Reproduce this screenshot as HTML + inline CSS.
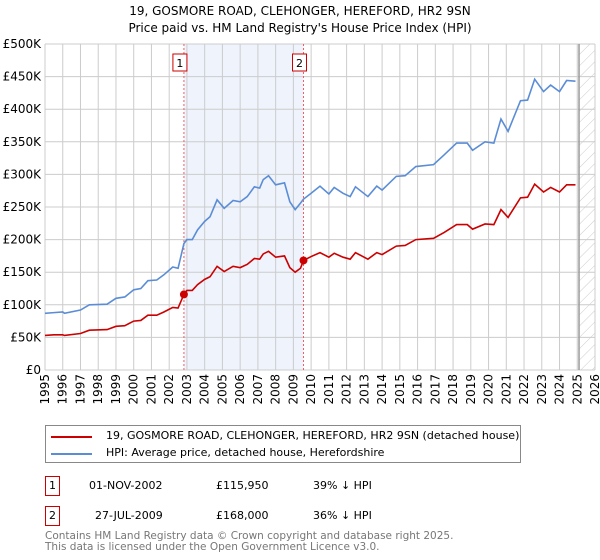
<!DOCTYPE html>
<html><head><meta charset="utf-8"><style>
body{margin:0;background:#fff;font-family:"DejaVu Sans","Liberation Sans",sans-serif;}
#wrap{position:relative;width:600px;height:560px;overflow:hidden;}
.t{position:absolute;font-size:11px;color:#000;white-space:nowrap;}
</style></head><body>
<div id="wrap">
<div class="t" style="left:0;width:600px;text-align:center;top:4px;font-size:12px;">19, GOSMORE ROAD, CLEHONGER, HEREFORD, HR2 9SN</div>
<div class="t" style="left:0;width:600px;text-align:center;top:21px;font-size:12px;">Price paid vs. HM Land Registry's House Price Index (HPI)</div>
<svg id="chart" width="600" height="420" style="position:absolute;left:0;top:0" font-family="DejaVu Sans, Liberation Sans, sans-serif"></svg>
<div style="position:absolute;left:45px;top:425px;width:474px;height:36px;border:1px solid #888;">
  <div style="position:absolute;left:5px;top:3px;width:460px;height:16px;">
    <div style="position:absolute;left:0;top:7px;width:41px;height:2px;background:#cc0000"></div>
    <div class="t" style="left:55px;top:0;font-size:11px;">19, GOSMORE ROAD, CLEHONGER, HEREFORD, HR2 9SN (detached house)</div>
  </div>
  <div style="position:absolute;left:5px;top:20px;width:460px;height:16px;">
    <div style="position:absolute;left:0;top:7px;width:41px;height:2px;background:#5b8dd6"></div>
    <div class="t" style="left:55px;top:0;font-size:11px;">HPI: Average price, detached house, Herefordshire</div>
  </div>
</div>
<div>
  <div class="t" style="left:45px;top:476px;width:13px;height:18px;border:1px solid #cc0000;text-align:center;line-height:18px;font-size:11px;">1</div>
  <div class="t" style="left:89px;top:479px;">01-NOV-2002</div>
  <div class="t" style="left:216px;top:479px;">£115,950</div>
  <div class="t" style="left:313px;top:479px;">39% ↓ HPI</div>
</div>
<div>
  <div class="t" style="left:45px;top:506px;width:13px;height:18px;border:1px solid #cc0000;text-align:center;line-height:18px;font-size:11px;">2</div>
  <div class="t" style="left:95px;top:509px;">27-JUL-2009</div>
  <div class="t" style="left:216px;top:509px;">£168,000</div>
  <div class="t" style="left:313px;top:509px;">36% ↓ HPI</div>
</div>
<div class="t" style="left:45px;top:531px;color:#777;font-size:10.5px;line-height:10.5px;">Contains HM Land Registry data © Crown copyright and database right 2025.<br>This data is licensed under the Open Government Licence v3.0.</div>
</div>
<script>
const yearTicks=[1995,1996,1997,1998,1999,2000,2001,2002,2003,2004,2005,2006,2007,2008,2009,2010,2011,2012,2013,2014,2015,2016,2017,2018,2019,2020,2021,2022,2023,2024,2025,2026];
const valueTicks=[0,50,100,150,200,250,300,350,400,450,500];
const valueTickLabels=["£0","£50K","£100K","£150K","£200K","£250K","£300K","£350K","£400K","£450K","£500K"];
const dates=[1995.0,1995.5,1996.0,1996.1,1997.0,1997.5,1998.5,1999.0,1999.5,2000.0,2000.4,2000.8,2001.3,2001.7,2002.2,2002.5,2002.83,2003.0,2003.3,2003.6,2004.0,2004.3,2004.7,2005.1,2005.6,2006.0,2006.4,2006.8,2007.1,2007.3,2007.6,2008.0,2008.5,2008.8,2009.1,2009.4,2009.57,2010.0,2010.5,2011.0,2011.3,2011.8,2012.2,2012.5,2013.2,2013.7,2014.0,2014.8,2015.3,2015.9,2016.9,2017.5,2018.2,2018.8,2019.1,2019.8,2020.3,2020.7,2021.1,2021.8,2022.2,2022.6,2023.1,2023.5,2024.0,2024.4,2024.9];
const hpiValues=[87,88,89,87,92,100,101,110,112,123,125,137,138,146,158,156,194,200,200,215,228,235,261,248,260,258,266,281,279,292,298,284,287,258,246,256,262,271,282,270,280,271,266,281,266,282,276,297,298,312,315,330,348,348,337,350,348,385,366,413,414,446,427,437,427,444,443];
const priceValues=[53,54,54,53,56,61,62,67,68,75,76,84,84,89,96,95,116,122,122,131,139,143,159,151,159,157,162,171,170,178,182,173,175,157,150,156,168,174,180,173,179,173,170,180,170,180,177,190,191,200,202,211,223,223,216,224,223,246,234,264,265,285,273,280,273,284,284];
const saleDates=[2002.83,2009.57];
const salePrices=[115.95,168];
const saleLabels=["1","2"];
const dataEnd=2025.1;

const svg=document.getElementById('chart');
const NS='http://www.w3.org/2000/svg';
const X0=45,X1=595,Y0=370,Y1=44;
const xs=y=>X0+(y-1995)/(2026-1995)*(X1-X0);
const ys=v=>Y0-v/500*(Y0-Y1);
function mk(t,a){const e=document.createElementNS(NS,t);for(const k in a)e.setAttribute(k,a[k]);svg.appendChild(e);return e;}

let e=mk('rect',{x:xs(saleDates[0]),y:Y1,width:xs(saleDates[1])-xs(saleDates[0]),height:Y0-Y1,fill:'#eef3fc'});


const defs=mk('defs',{});
defs.innerHTML='<pattern id="hatch" width="8" height="8" patternUnits="userSpaceOnUse" patternTransform="rotate(45)"><line x1="0" y1="0" x2="0" y2="8" stroke="#ccc" stroke-width="1"/></pattern>';
e=mk('rect',{x:xs(dataEnd),y:Y1,width:X1-xs(dataEnd),height:Y0-Y1,fill:'url(#hatch)'});



yearTicks.forEach(yr=>{
  const g=mk('line',{x1:xs(yr),x2:xs(yr),y1:Y1,y2:Y0,stroke:'#ccc','stroke-width':1});
  
  
  const x=xs(yr)+4,y=Y0+4;
  const t=mk('text',{x:x,y:y,transform:`rotate(-90 ${x} ${y})`,'text-anchor':'end','font-size':12,fill:'#000'});
  t.textContent=yr;
  
  
});
valueTicks.forEach((v,i)=>{
  const g=mk('line',{x1:X0,x2:X1,y1:ys(v),y2:ys(v),stroke:'#ccc','stroke-width':1});
  
  
  const t=mk('text',{x:41,y:ys(v)+4,'text-anchor':'end','font-size':12,fill:'#000'});
  t.textContent=valueTickLabels[i];
  
  
});
e=mk('line',{x1:xs(dataEnd),x2:xs(dataEnd),y1:Y1,y2:Y0,stroke:'#999','stroke-width':1.5});



saleDates.forEach((d,i)=>{
  const l=mk('line',{x1:xs(d),x2:xs(d),y1:Y1,y2:Y0,stroke:'#f06060','stroke-width':1,'stroke-dasharray':'2,2'});
  
  
  const r=mk('rect',{x:xs(d)-11,y:54,width:14,height:17,fill:'#fff',stroke:'#cc0000','stroke-width':1});
  
  
  const t=mk('text',{x:xs(d)-4,y:67,'text-anchor':'middle','font-size':11});
  t.textContent=saleLabels[i];
  
  
});

const hp=mk('polyline',{points:dates.map((d,i)=>xs(d)+','+ys(hpiValues[i])).join(' '),fill:'none',stroke:'#5b8dd6','stroke-width':1.6});


const pp=mk('polyline',{points:dates.map((d,i)=>xs(d)+','+ys(priceValues[i])).join(' '),fill:'none',stroke:'#cc0000','stroke-width':1.6});


saleDates.forEach((d,i)=>{
  const c=mk('circle',{cx:xs(d),cy:ys(salePrices[i]),r:4,fill:'#cc0000'});
  
  
});
</script>
</body></html>
